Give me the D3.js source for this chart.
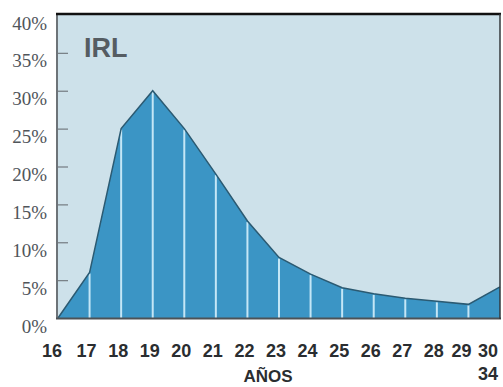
<!DOCTYPE html>
<html><head><meta charset="utf-8">
<script src="https://cdn.jsdelivr.net/npm/d3@7"></script>
<style>html,body{margin:0;padding:0;background:#fff;}svg{display:block;}</style>
</head><body>
<script>
const ages = ["16","17","18","19","20","21","22","23","24","25","26","27","28","29","30"];
const values = [0, 6, 25, 30, 25, 19, 12.8, 8, 5.8, 4, 3.2, 2.6, 2.2, 1.8, 4.1];
const yTicks = [0, 5, 10, 15, 20, 25, 30, 35, 40];
const title = "IRL";
const xTitle = "AÑOS";
const lastSub = "34";

const W = 503, H = 387;
const L = 58, R = 500, T = 15, B = 318;
const svg = d3.select("body").append("svg").attr("width", W).attr("height", H);

const x = d3.scaleLinear().domain([0, ages.length - 1]).range([L, R]);
const y = d3.scaleLinear().domain([0, 40]).range([B, T]);

// background
svg.append("rect").attr("x", L).attr("y", T).attr("width", R - L).attr("height", B - T).attr("fill", "#cde1ea");

const data = values.map((v, i) => ({i, v}));
const area = d3.area().x(d => x(d.i)).y0(B).y1(d => y(d.v));
svg.append("path").datum(data).attr("d", area).attr("fill", "#3b95c5");

// white vertical lines
svg.append("g").selectAll("line").data(data.slice(1, -1)).join("line")
  .attr("x1", d => x(d.i)).attr("x2", d => x(d.i))
  .attr("y1", B).attr("y2", d => y(d.v) + 1)
  .attr("stroke", "#c4e6f6").attr("stroke-width", 2);

const line = d3.line().x(d => x(d.i)).y(d => y(d.v));
svg.append("path").datum(data).attr("d", line).attr("fill", "none")
  .attr("stroke", "#2b5a72").attr("stroke-width", 1.5).attr("stroke-linejoin", "miter");

// y ticks inside plot
const yAxis = d3.axisRight(y).tickValues(yTicks.filter(t => t > 0 && t < 40)).tickSize(10).tickFormat("");
const gy = svg.append("g").attr("transform", `translate(${L},0)`).call(yAxis);
gy.select(".domain").remove();
gy.selectAll(".tick line").attr("stroke", "#7a8288").attr("stroke-width", 1.3);

// y labels
svg.append("g").selectAll("text").data(yTicks).join("text")
  .attr("x", 47).attr("y", d => y(d) + 14.5)
  .attr("text-anchor", "end")
  .attr("font-family", "Liberation Serif, serif").attr("font-size", 19)
  .attr("fill", "#50555a")
  .text(d => d + "%");

// borders
svg.append("line").attr("x1", L - 1).attr("x2", L - 1).attr("y1", T).attr("y2", B + 1)
  .attr("stroke", "#6d7378").attr("stroke-width", 2);
svg.append("line").attr("x1", L - 2).attr("x2", R + 1).attr("y1", B + 0.5).attr("y2", B + 0.5)
  .attr("stroke", "#4d5256").attr("stroke-width", 2);
svg.append("line").attr("x1", L - 2).attr("x2", R + 1).attr("y1", T - 1).attr("y2", T - 1)
  .attr("stroke", "#111", ).attr("stroke-width", 2.5);
svg.append("line").attr("x1", R).attr("x2", R).attr("y1", T - 1).attr("y2", B + 1)
  .attr("stroke", "#33383c").attr("stroke-width", 1.5);

// x labels
const n = ages.length;
svg.append("g").selectAll("text").data(ages).join("text")
  .attr("x", (d, i) => i === 0 ? x(i) - 6 : (i === n - 1 ? x(i) - 2 : (i === n - 2 ? x(i) - 7 : x(i) - 3)))
  .attr("y", 357)
  .attr("text-anchor", (d, i) => i === n - 1 ? "end" : "middle")
  .attr("font-family", "Liberation Sans, Arial, sans-serif").attr("font-weight", "bold")
  .attr("font-size", 18).attr("fill", "#2a2d30")
  .text(d => d);

svg.append("text").attr("x", x(n - 1) - 2).attr("y", 380)
  .attr("text-anchor", "end")
  .attr("font-family", "Liberation Sans, Arial, sans-serif").attr("font-weight", "bold")
  .attr("font-size", 18).attr("fill", "#2a2d30").text(lastSub);

svg.append("text").attr("x", 268).attr("y", 382)
  .attr("text-anchor", "middle")
  .attr("font-family", "Liberation Sans, Arial, sans-serif").attr("font-weight", "bold")
  .attr("font-size", 17).attr("fill", "#2a2d30").text(xTitle);

svg.append("text").attr("x", 84).attr("y", 57)
  .attr("font-family", "Liberation Sans, Arial, sans-serif").attr("font-weight", "bold")
  .attr("font-size", 27).attr("fill", "#555c62").text(title);
</script>
</body></html>
